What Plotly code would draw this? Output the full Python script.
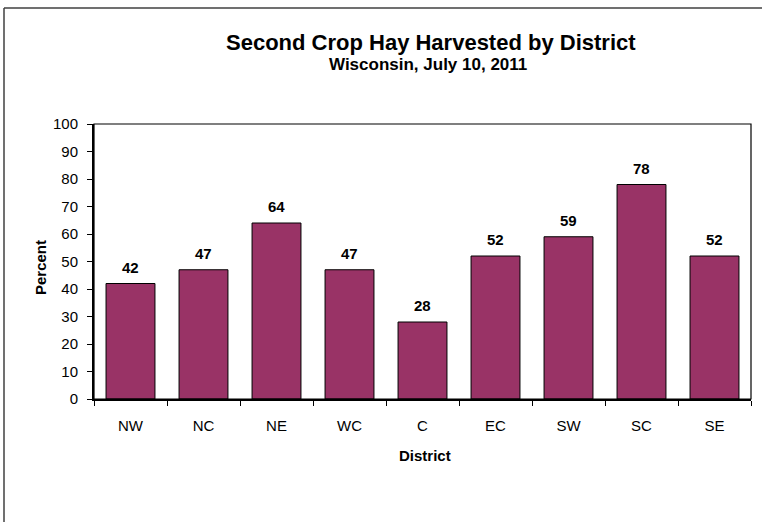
import plotly.graph_objects as go

districts = ["NW", "NC", "NE", "WC", "C", "EC", "SW", "SC", "SE"]
percent = [42, 47, 64, 47, 28, 52, 59, 78, 52]
y_ticks = list(range(0, 101, 10))

FONT = "Arial, Liberation Sans, sans-serif"
W, H = 762, 522
L, R, T, B = 94, 751, 124, 399

fig = go.Figure()
fig.add_trace(go.Bar(
    x=districts, y=percent,
    marker=dict(color="#993366", line=dict(color="black", width=1)),
    width=0.67,
    hoverinfo="x+y",
))

for d, v in zip(districts, percent):
    fig.add_annotation(x=d, y=v, text=f"<b>{v}</b>", showarrow=False,
                       yanchor="bottom", yshift=6,
                       font=dict(family=FONT, size=15, color="black"))

pw, ph = R - L, B - T
def px(x): return (x - L) / pw
def py(y): return (B - y) / ph

shapes = [
    dict(type="rect", xref="paper", yref="paper", x0=0, x1=1, y0=0, y1=1,
         line=dict(color="black", width=1.2), layer="above"),
    dict(type="line", xref="paper", yref="paper", x0=px(4), x1=px(4), y0=py(8), y1=py(540),
         line=dict(color="#404040", width=1.5)),
    dict(type="line", xref="paper", yref="paper", x0=px(4), x1=px(780), y0=py(8), y1=py(8),
         line=dict(color="#404040", width=1.5)),
]

annotations_extra = [
    dict(text="<b>Second Crop Hay Harvested by District</b>", xref="paper", yref="paper",
         x=px(431), y=py(42), xanchor="center", yanchor="middle", showarrow=False,
         font=dict(family=FONT, size=22, color="black")),
    dict(text="<b>Wisconsin, July 10, 2011</b>", xref="paper", yref="paper",
         x=px(428), y=py(65), xanchor="center", yanchor="middle", showarrow=False,
         font=dict(family=FONT, size=17, color="black")),
    dict(text="<b>Percent</b>", xref="paper", yref="paper", textangle=-90,
         x=px(40), y=py(268), xanchor="center", yanchor="middle", showarrow=False,
         font=dict(family=FONT, size=15, color="black")),
    dict(text="<b>District</b>", xref="paper", yref="paper",
         x=px(425), y=py(455), xanchor="center", yanchor="middle", showarrow=False,
         font=dict(family=FONT, size=15, color="black")),
]
for a in annotations_extra:
    fig.add_annotation(**a)

fig.update_layout(
    width=W, height=H,
    margin=dict(l=L, r=W - R, t=T, b=H - B, pad=0),
    paper_bgcolor="white", plot_bgcolor="white",
    font=dict(family=FONT, color="black", size=15),
    showlegend=False,
    shapes=shapes,
    bargap=0.33,
    xaxis=dict(
        showgrid=False, showline=True, linecolor="black", linewidth=1.5,
        ticks="outside", tickson="boundaries", ticklen=5, tickcolor="black", tickwidth=1,
        tickfont=dict(family=FONT, size=15, color="black"),
        ticklabelstandoff=12,
    ),
    yaxis=dict(
        range=[0, 100], tickvals=y_ticks, showgrid=False, zeroline=False,
        showline=True, linecolor="black", linewidth=2,
        ticks="outside", ticklen=5, tickcolor="black", tickwidth=1,
        tickfont=dict(family=FONT, size=15, color="black"),
        ticklabelstandoff=6,
    ),
)

fig.write_html("out.html", config={"displayModeBar": False},
               post_script="document.body.style.margin='0';")
